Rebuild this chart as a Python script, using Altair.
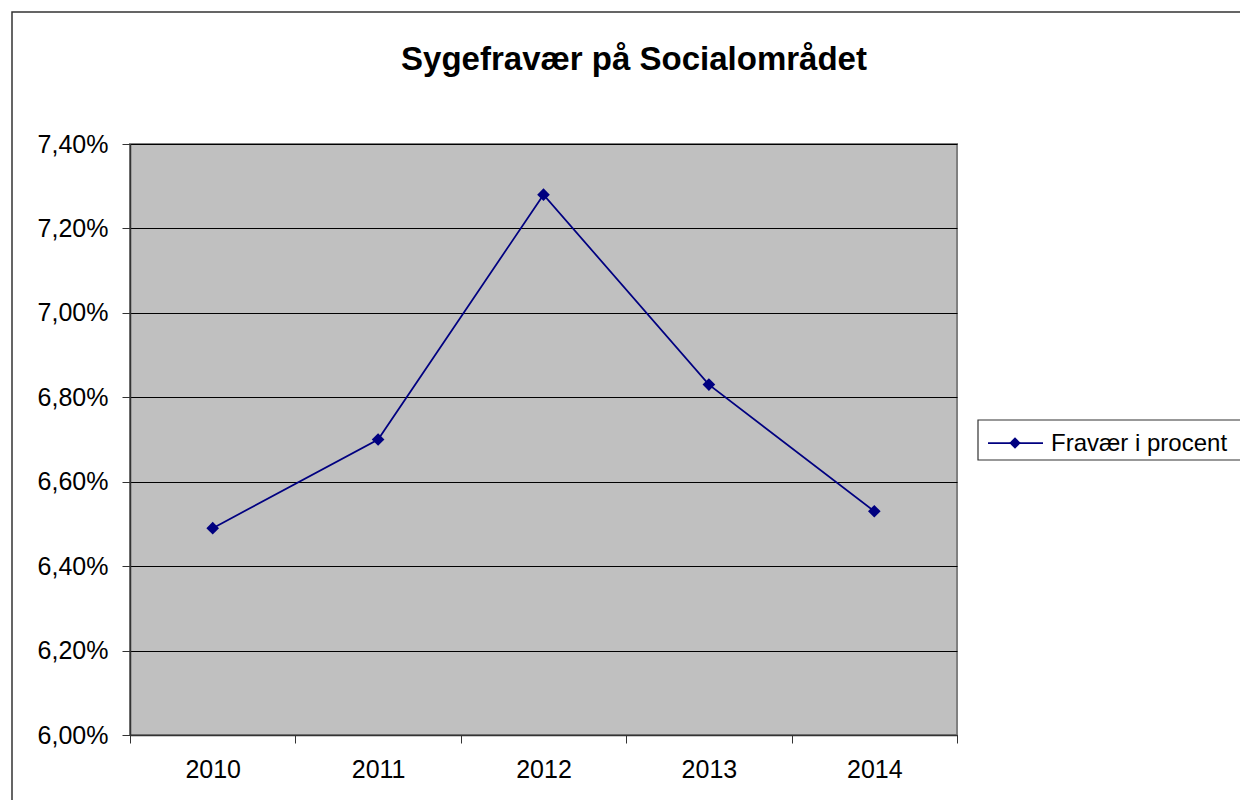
import altair as alt
import pandas as pd

years = ["2010", "2011", "2012", "2013", "2014"]
values = [0.0649, 0.0670, 0.0728, 0.0683, 0.0653]
y_ticks = [0.060, 0.062, 0.064, 0.066, 0.068, 0.070, 0.072, 0.074]
title_text = "Sygefravær på Socialområdet"
legend_label = "Fravær i procent"

FONT = "Liberation Sans"
NAVY = "#000080"

df = pd.DataFrame({"year": years, "value": values})

x_enc = alt.X(
    "year:O",
    title=None,
    scale=alt.Scale(paddingInner=0, paddingOuter=0),
    axis=alt.Axis(
        labelAngle=0,
        tickBand="extent",
        tickSize=8,
        tickColor="#333333",
        domainColor="#333333",
        domainWidth=1.5,
        labelFontSize=25,
        labelFont=FONT,
        labelColor="#000000",
        labelPadding=14,
        grid=False,
    ),
)
y_enc = alt.Y(
    "value:Q",
    title=None,
    scale=alt.Scale(domain=[0.060, 0.074], nice=False, zero=False),
    axis=alt.Axis(
        values=y_ticks,
        labelExpr="replace(format(datum.value, '.2%'), '.', ',')",
        tickSize=8,
        tickColor="#333333",
        domainColor="#333333",
        domainWidth=1.5,
        labelFontSize=25,
        labelFont=FONT,
        labelColor="#000000",
        labelPadding=14,
        grid=True,
        gridColor="#000000",
        gridWidth=1,
    ),
)

base = alt.Chart(df)
line = base.mark_line(color=NAVY, strokeWidth=1.75).encode(x=x_enc, y=y_enc)
points = base.mark_point(shape="diamond", filled=True, color=NAVY, size=160, opacity=1).encode(
    x="year:O", y="value:Q"
)

one = pd.DataFrame({"t": [title_text], "l": [legend_label]})
frame = alt.Chart(one).mark_rect(fill=None, stroke="#333333", strokeWidth=1.5).encode(
    x=alt.value(-118), x2=alt.value(1140), y=alt.value(-132), y2=alt.value(700)
)
title = alt.Chart(one).mark_text(
    font=FONT, fontSize=33, fontWeight="bold", align="center", baseline="middle", color="#000000"
).encode(text="t:N", x=alt.value(504), y=alt.value(-84))

leg_box = alt.Chart(one).mark_rect(fill="white", stroke="#333333", strokeWidth=1.2).encode(
    x=alt.value(848), x2=alt.value(1140), y=alt.value(276), y2=alt.value(316)
)
leg_line = alt.Chart(one).mark_rule(color=NAVY, strokeWidth=1.75).encode(
    x=alt.value(858), x2=alt.value(913), y=alt.value(299)
)
leg_pt = alt.Chart(one).mark_point(shape="diamond", filled=True, color=NAVY, size=130, opacity=1).encode(
    x=alt.value(885), y=alt.value(299)
)
leg_text = alt.Chart(one).mark_text(
    font=FONT, fontSize=24, align="left", baseline="middle", color="#000000"
).encode(text="l:N", x=alt.value(921), y=alt.value(300))

chart = alt.layer(frame, line, points, title, leg_box, leg_line, leg_pt, leg_text).properties(
    width=827,
    height=591,
    autosize=alt.AutoSizeParams(type="none"),
    padding={"left": 122, "top": 136, "right": 283, "bottom": 65},
    background="white",
).configure_view(fill="#C0C0C0", stroke="#808080", strokeWidth=2)

chart.save("out.html", embed_options={"renderer": "svg", "actions": False})
